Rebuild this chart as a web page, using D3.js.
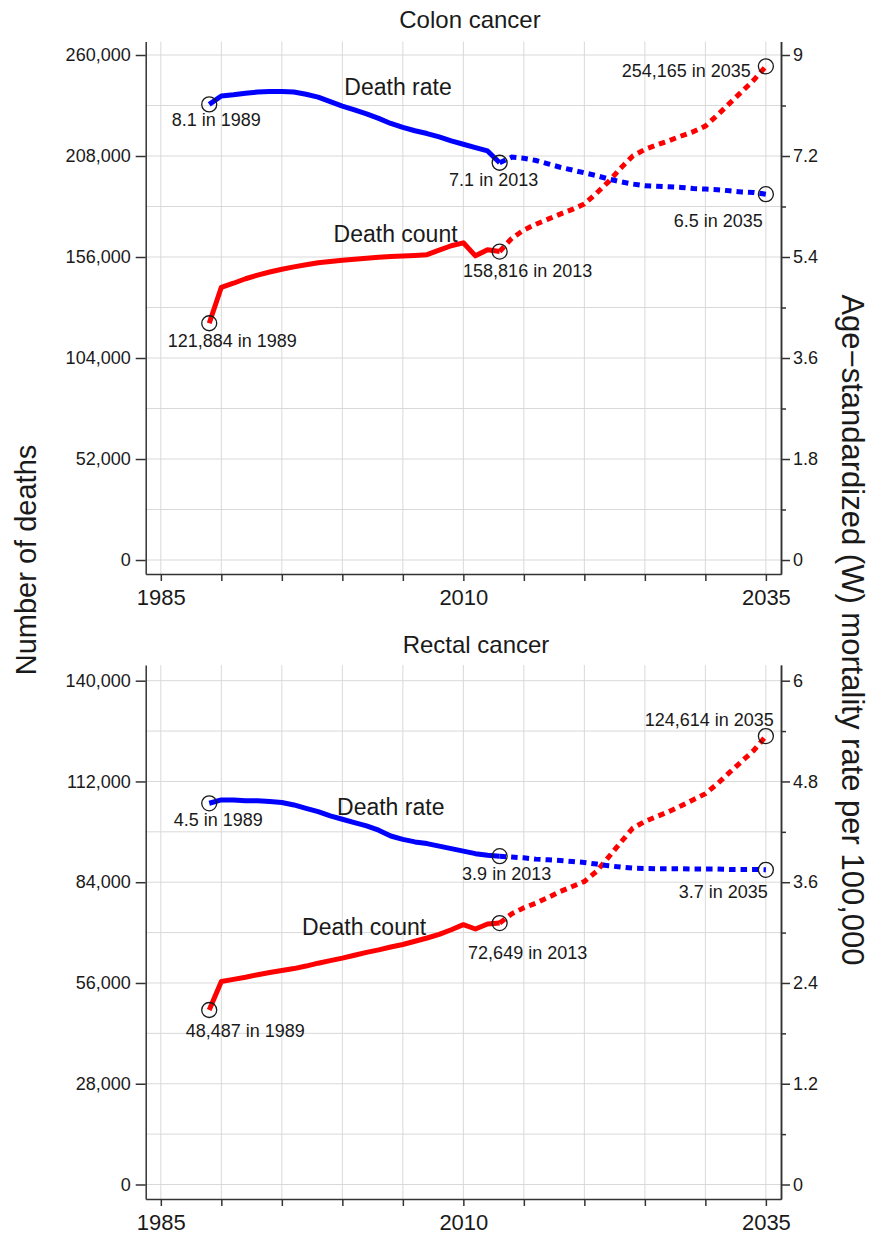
<!DOCTYPE html>
<html>
<head>
<meta charset="utf-8">
<script src="https://cdn.jsdelivr.net/npm/d3@7"></script>
<style>
  body { margin: 0; background: #fff; }
  text { font-family: "Liberation Sans", Arial, sans-serif; }
</style>
</head>
<body>
<svg></svg>
<script>
const width = 872;
const height = 1234;

// years
const obsYears = [1989, 1990, 1991, 1992, 1993, 1994, 1995, 1996, 1997, 1998, 1999, 2000,
    2001, 2002, 2003, 2004, 2005, 2006, 2007, 2008, 2009, 2010, 2011, 2012, 2013];
const projYears = [2013, 2014, 2015, 2016, 2017, 2018, 2019, 2020, 2021, 2022, 2023, 2024,
    2025, 2026, 2027, 2028, 2029, 2030, 2031, 2032, 2033, 2034, 2035];

// colon cancer
const colonCountObs = [121884, 140400, 142500, 144800, 146700, 148300, 149700, 150900, 152000,
    153000, 153700, 154300, 154900, 155400, 155900, 156300, 156500, 156800, 157200, 159500,
    161800, 163300, 156600, 159700, 158816];
const colonCountProj = [158816, 165600, 169900, 172900, 175500, 178100, 180500, 183300, 188800,
    194800, 201700, 208000, 211400, 213700, 215900, 218300, 220500, 223400, 229100, 235100,
    241100, 247100, 254165];
const colonRateObs = [8.12, 8.27, 8.29, 8.32, 8.34, 8.35, 8.35, 8.34, 8.30, 8.25, 8.17, 8.09,
    8.02, 7.95, 7.87, 7.78, 7.71, 7.65, 7.60, 7.54, 7.47, 7.41, 7.35, 7.29, 7.08];
const colonRateProj = [7.08, 7.18, 7.16, 7.12, 7.06, 7.00, 6.95, 6.90, 6.85, 6.79, 6.74, 6.70,
    6.67, 6.66, 6.65, 6.64, 6.62, 6.61, 6.60, 6.58, 6.56, 6.55, 6.52];

// rectal cancer
const rectalCountObs = [48487, 56400, 57000, 57600, 58300, 58900, 59450, 60000, 60700, 61500,
    62200, 62900, 63700, 64500, 65200, 66000, 66700, 67600, 68500, 69500, 70800, 72200, 71000,
    72400, 72649];
const rectalCountProj = [72649, 75210, 76880, 78180, 79750, 81420, 82810, 84200, 86980, 90970,
    95050, 99030, 100890, 102280, 103670, 105240, 106910, 108580, 111360, 114510, 117570,
    120630, 124614];
const rectalRateObs = [4.54, 4.58, 4.58, 4.57, 4.57, 4.56, 4.55, 4.52, 4.48, 4.44, 4.39, 4.35,
    4.31, 4.27, 4.22, 4.15, 4.11, 4.08, 4.06, 4.03, 4.00, 3.97, 3.94, 3.92, 3.91];
const rectalRateProj = [3.91, 3.90, 3.89, 3.875, 3.867, 3.859, 3.847, 3.835, 3.816, 3.796,
    3.78, 3.768, 3.764, 3.76, 3.76, 3.76, 3.756, 3.756, 3.756, 3.752, 3.752, 3.752, 3.748];

// ticks
const xGridYears = [1985, 1990, 1995, 2000, 2005, 2010, 2015, 2020, 2025, 2030, 2035];
const xTickLabels = [1985, 2010, 2035];
const colonCountTicks = [0, 52000, 104000, 156000, 208000, 260000];
const colonCountGrid = [0, 26000, 52000, 78000, 104000, 130000, 156000, 182000, 208000, 234000, 260000];
const colonRateTicks = [0, 1.8, 3.6, 5.4, 7.2, 9];
const colonRateMinor = [0.9, 2.7, 4.5, 6.3, 8.1];
const rectalCountTicks = [0, 28000, 56000, 84000, 112000, 140000];
const rectalCountGrid = [0, 14000, 28000, 42000, 56000, 70000, 84000, 98000, 112000, 126000, 140000];
const rectalRateTicks = [0, 1.2, 2.4, 3.6, 4.8, 6];
const rectalRateMinor = [0.6, 1.8, 3.0, 4.2, 5.4];

const RED = "#ff0000";
const BLUE = "#0000ff";
const INK = "#1a1a1a";

const svg = d3.select("svg")
    .attr("width", width)
    .attr("height", height);

const x = d3.scaleLinear().domain([1983.75, 2036.25]).range([145.7, 781]);

const fmtCount = d3.format(",");
const fmtRate = d3.format(".1f");

function drawPanel(p) {
    const g = svg.append("g");

    const yC = d3.scaleLinear().domain(p.countDomain).range([p.bottom, p.top]);
    const k = p.rateTicks[p.rateTicks.length - 1] / p.countTicks[p.countTicks.length - 1];
    const yR = d3.scaleLinear().domain(p.countDomain.map(v => v * k)).range([p.bottom, p.top]);

    // grid
    g.append("g").selectAll("line")
        .data(xGridYears)
        .join("line")
        .attr("x1", d => x(d)).attr("x2", d => x(d))
        .attr("y1", p.top).attr("y2", p.bottom)
        .attr("stroke", "#d9d9d9").attr("stroke-width", 1);
    g.append("g").selectAll("line")
        .data(p.countGrid)
        .join("line")
        .attr("x1", x.range()[0]).attr("x2", x.range()[1])
        .attr("y1", d => yC(d)).attr("y2", d => yC(d))
        .attr("stroke", "#d9d9d9").attr("stroke-width", 1);

    // axes
    const styleAxis = (a, size) => {
        a.attr("color", "#333").attr("font-family", null).attr("font-size", size);
        a.selectAll("path, line").attr("stroke-width", 1.5);
        a.selectAll("text").attr("fill", INK);
    };

    g.append("g")
        .attr("transform", `translate(${x.range()[0]},0)`)
        .call(d3.axisLeft(yC).tickValues(p.countTicks).tickFormat(fmtCount)
            .tickSize(10).tickSizeOuter(0).tickPadding(5))
        .call(a => styleAxis(a, 18));

    g.append("g")
        .attr("transform", `translate(${x.range()[1]},0)`)
        .call(d3.axisRight(yR).tickValues(p.rateMinor).tickFormat("")
            .tickSize(5).tickSizeOuter(0))
        .call(a => styleAxis(a, 18));

    g.append("g")
        .attr("transform", `translate(${x.range()[1]},0)`)
        .call(d3.axisRight(yR).tickValues(p.rateTicks).tickFormat(d3.format("~g"))
            .tickSize(9).tickSizeOuter(0).tickPadding(3))
        .call(a => styleAxis(a, 18));

    g.append("g")
        .attr("transform", `translate(0,${p.bottom})`)
        .call(d3.axisBottom(x).tickValues(xGridYears)
            .tickFormat(d => xTickLabels.includes(d) ? d : "")
            .tickSize(7).tickSizeOuter(0).tickPadding(8))
        .call(a => styleAxis(a, 22));

    // title
    g.append("text")
        .attr("x", p.titleX).attr("y", p.titleY)
        .attr("text-anchor", "middle")
        .attr("font-size", 24)
        .attr("fill", INK)
        .text(p.title);

    // lines
    const series = [
        { obs: p.countObs, proj: p.countProj, y: yC, color: RED },
        { obs: p.rateObs, proj: p.rateProj, y: yR, color: BLUE }
    ];

    series.forEach(s => {
        const line = d3.line().x(d => x(d[0])).y(d => s.y(d[1])).curve(d3.curveLinear);
        g.append("path")
            .datum(d3.zip(projYears, s.proj))
            .attr("d", line)
            .attr("fill", "none")
            .attr("stroke", s.color)
            .attr("stroke-width", 5)
            .attr("stroke-dasharray", "6.5,5");
        g.append("path")
            .datum(d3.zip(obsYears, s.obs))
            .attr("d", line)
            .attr("fill", "none")
            .attr("stroke", s.color)
            .attr("stroke-width", 5)
            .attr("stroke-linejoin", "round");
    });

    // end-point markers and labels
    const ends = [
        { year: obsYears[0], v: p.countObs[0], y: yC, fmt: fmtCount, lab: p.labels.countStart },
        { year: obsYears[obsYears.length - 1], v: p.countObs[p.countObs.length - 1], y: yC, fmt: fmtCount, lab: p.labels.countObs },
        { year: projYears[projYears.length - 1], v: p.countProj[p.countProj.length - 1], y: yC, fmt: fmtCount, lab: p.labels.countProj },
        { year: obsYears[0], v: p.rateObs[0], y: yR, fmt: fmtRate, lab: p.labels.rateStart },
        { year: obsYears[obsYears.length - 1], v: p.rateObs[p.rateObs.length - 1], y: yR, fmt: fmtRate, lab: p.labels.rateObs },
        { year: projYears[projYears.length - 1], v: p.rateProj[p.rateProj.length - 1], y: yR, fmt: fmtRate, lab: p.labels.rateProj }
    ];

    g.append("g").selectAll("circle")
        .data(ends)
        .join("circle")
        .attr("cx", d => x(d.year))
        .attr("cy", d => d.y(d.v))
        .attr("r", 7.5)
        .attr("fill", "none")
        .attr("stroke", INK)
        .attr("stroke-width", 1.3);

    g.append("g").selectAll("text")
        .data(ends)
        .join("text")
        .attr("x", d => x(d.year) + d.lab[0])
        .attr("y", d => d.y(d.v) + d.lab[1] + 6.5)
        .attr("text-anchor", d => d.lab[2])
        .attr("font-size", 18)
        .attr("fill", INK)
        .text(d => `${d.fmt(d.v)} in ${d.year}`);

    // series names
    g.append("text")
        .attr("x", x(p.rateName[0])).attr("y", yR(p.rateName[1]))
        .attr("text-anchor", "middle").attr("font-size", 23).attr("fill", INK)
        .text("Death rate");
    g.append("text")
        .attr("x", x(p.countName[0])).attr("y", yC(p.countName[1]))
        .attr("text-anchor", "middle").attr("font-size", 23).attr("fill", INK)
        .text("Death count");
}

drawPanel({
    title: "Colon cancer", titleX: 470, titleY: 28,
    top: 41.5, bottom: 574,
    countDomain: [-7200, 266950],
    countTicks: colonCountTicks, countGrid: colonCountGrid,
    rateTicks: colonRateTicks, rateMinor: colonRateMinor,
    countObs: colonCountObs, countProj: colonCountProj,
    rateObs: colonRateObs, rateProj: colonRateProj,
    rateName: [2004.6, 8.28], countName: [2004.4, 163500],
    labels: {
        countStart: [23, 17, "middle"],
        countObs: [28, 18.5, "middle"],
        countProj: [-15, 4, "end"],
        rateStart: [7, 15, "middle"],
        rateObs: [-6, 17, "middle"],
        rateProj: [-3, 26, "end"]
    }
});

drawPanel({
    title: "Rectal cancer", titleX: 476, titleY: 653,
    top: 665, bottom: 1199,
    countDomain: [-4030, 144360],
    countTicks: rectalCountTicks, countGrid: rectalCountGrid,
    rateTicks: rectalRateTicks, rateMinor: rectalRateMinor,
    countObs: rectalCountObs, countProj: rectalCountProj,
    rateObs: rectalRateObs, rateProj: rectalRateProj,
    rateName: [2004.0, 4.4], countName: [2001.8, 69400],
    labels: {
        countStart: [36, 20.7, "middle"],
        countObs: [28, 29, "middle"],
        countProj: [8, -17, "end"],
        rateStart: [9, 16, "middle"],
        rateObs: [7, 17.5, "middle"],
        rateProj: [2, 22, "end"]
    }
});

// axis titles
svg.append("text")
    .attr("transform", "translate(36,560) rotate(-90)")
    .attr("text-anchor", "middle")
    .attr("font-size", 29)
    .attr("fill", INK)
    .text("Number of deaths");

svg.append("text")
    .attr("transform", "translate(842,630) rotate(90)")
    .attr("text-anchor", "middle")
    .attr("font-size", 31)
    .attr("fill", INK)
    .text("Age\u2212standardized (W) mortality rate per 100,000");
</script>
</body>
</html>
